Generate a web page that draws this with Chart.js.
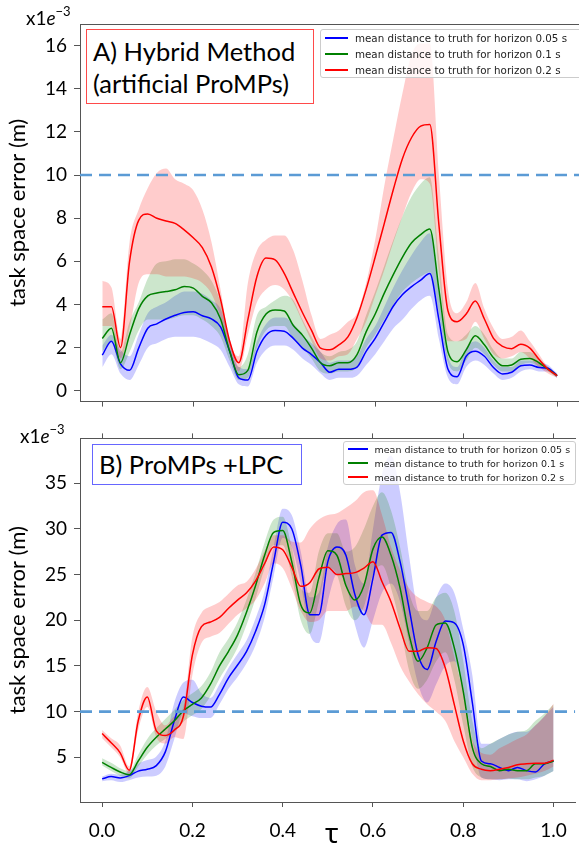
<!DOCTYPE html>
<html>
<head>
<meta charset="utf-8">
<script src="https://cdn.jsdelivr.net/npm/chart.js@4.4.3/dist/chart.umd.min.js"></script>
<style>
  body { margin: 0; background: #fff; width: 579px; height: 848px; overflow: hidden; position: relative; font-family: Lato, sans-serif; }
  canvas { position: absolute; left: 0; }
  #cA { top: 0; }
  #cB { top: 420px; }
  .exp { position: absolute; font-size: 19px; line-height: 19px; color: #000; white-space: nowrap; }
  .exp sup { font-size: 13px; line-height: 0; position: relative; top: -2px; }
  .note { position: absolute; background: #fff; box-sizing: border-box; color: #000; white-space: nowrap; }
  .legend { position: absolute; background: rgba(255,255,255,0.8); border: 1px solid #ccc; border-radius: 3px; box-sizing: border-box; font-family: "DejaVu Sans", sans-serif; color: #222; }
  .legend .row { position: absolute; white-space: nowrap; }
  .legend .ln { position: absolute; height: 2px; }
  #tau { position: absolute; left: 325px; top: 818px; font-family: "Noto Sans", sans-serif; font-size: 28px; line-height: 28px; }
</style>
</head>
<body>
<canvas id="cA" width="579" height="420"></canvas>
<canvas id="cB" width="579" height="428"></canvas>

<div class="exp" style="left:26px;top:8px">x1<i>e</i><sup>−3</sup></div>
<div class="exp" style="left:20px;top:426px">x1<i>e</i><sup>−3</sup></div>

<div class="note" style="left:86px;top:29px;width:228px;height:75px;border:1.5px solid #ff4a4a;padding:5px 0 0 6px;font-size:25.5px;line-height:32px">A) Hybrid Method<br>(artificial ProMPs)</div>
<div class="note" style="left:92px;top:444px;width:210px;height:41px;border:1.5px solid #6666ff;padding:0 0 0 6px;font-size:25.5px;line-height:38px">B) ProMPs +LPC</div>

<div id="legA" class="legend" style="left:320px;top:29px;width:270px;height:49px;font-size:10.3px"></div>
<div id="legB" class="legend" style="left:343px;top:441px;width:233px;height:44px;font-size:9.5px"></div>

<div id="tau">τ</div>

<script>
// tau grid shared by every series
const TAU = [0, 0.02, 0.04, 0.06, 0.08, 0.1, 0.12, 0.14, 0.16, 0.18, 0.2, 0.22, 0.24, 0.26, 0.28, 0.3, 0.32, 0.34, 0.36, 0.38, 0.4,
  0.42, 0.44, 0.46, 0.48, 0.5, 0.52, 0.54, 0.56, 0.58, 0.6, 0.62, 0.64, 0.66, 0.68, 0.7, 0.72, 0.74, 0.76, 0.78, 0.8,
  0.82, 0.84, 0.86, 0.88, 0.9, 0.92, 0.94, 0.96, 0.98, 1.0];
const X_TICKS = [0, 0.2, 0.4, 0.6, 0.8, 1.0];
const A_Y_TICKS = [0, 2, 4, 6, 8, 10, 12, 14, 16];
const B_Y_TICKS = [5, 10, 15, 20, 25, 30, 35];
const THRESHOLD = 10;
const SERIES_LABELS = [
  'mean distance to truth for horizon 0.05 s',
  'mean distance to truth for horizon 0.1 s',
  'mean distance to truth for horizon 0.2 s'
];

// panel A (x1e-3)
const A_BLUE = [1.65, 2.3, 1.25, 0.95, 1.98, 2.9, 3.1, 3.33, 3.5, 3.63, 3.66, 3.48, 3.33, 2.96, 1.83, 0.6, 0.5, 1.83, 2.58, 2.8, 2.76,
  2.43, 1.98, 1.68, 1.3, 0.86, 1.0, 1.0, 1.1, 1.83, 2.43, 3.18, 3.93, 4.46, 4.83, 5.13, 5.44, 3.3, 1.0, 0.65, 1.6,
  1.83, 1.6, 1.08, 0.78, 0.86, 1.16, 1.2, 1.08, 1.05, 0.7];
const A_BLUE_HI = [2.1, 2.6, 1.9, 1.6, 2.6, 3.6, 3.9, 4.1, 4.4, 4.6, 4.6, 4.5, 4.2, 3.8, 2.4, 1.1, 1.0, 2.3, 3.1, 3.4, 3.4,
  3.1, 2.6, 2.2, 1.8, 1.3, 1.4, 1.4, 1.6, 2.4, 3.0, 3.9, 4.8, 5.6, 6.3, 6.9, 7.3, 4.5, 1.6, 1.1, 2.0,
  2.3, 2.0, 1.4, 1.1, 1.1, 1.4, 1.4, 1.3, 1.2, 0.8];
const A_BLUE_LO = [1.1, 1.7, 0.8, 0.5, 1.2, 2.0, 2.2, 2.4, 2.5, 2.5, 2.5, 2.4, 2.2, 1.9, 1.1, 0.3, 0.2, 1.3, 1.9, 2.1, 2.1,
  1.9, 1.5, 1.2, 0.8, 0.5, 0.6, 0.6, 0.7, 1.2, 1.7, 2.3, 2.9, 3.3, 3.8, 4.2, 4.4, 2.4, 0.6, 0.3, 1.1,
  1.4, 1.2, 0.8, 0.5, 0.6, 0.9, 1.0, 0.9, 0.9, 0.6];
const A_GREEN = [2.43, 2.9, 1.3, 2.6, 3.8, 4.4, 4.53, 4.6, 4.68, 4.83, 4.76, 4.38, 4.08, 3.33, 1.83, 0.75, 0.95, 2.73, 3.56, 3.75, 3.7,
  3.03, 2.58, 1.98, 1.3, 1.16, 1.3, 1.3, 1.68, 2.73, 3.56, 4.53, 5.4, 6.2, 6.86, 7.24, 7.5, 4.7, 1.8, 1.35, 1.9,
  2.55, 2.13, 1.53, 1.16, 1.2, 1.46, 1.5, 1.3, 1.0, 0.7];
const A_GREEN_HI = [3.3, 3.6, 1.8, 3.2, 4.1, 5.2, 5.9, 6.0, 6.1, 6.1, 5.9, 5.6, 5.1, 4.1, 2.2, 1.1, 1.7, 3.5, 3.9, 4.2, 4.4,
  4.2, 3.3, 2.5, 1.8, 1.6, 1.8, 1.9, 2.3, 3.5, 4.6, 5.8, 7.0, 8.1, 9.0, 9.6, 9.9, 6.2, 2.6, 2.3, 2.6,
  3.0, 2.6, 1.9, 1.5, 1.5, 1.8, 1.8, 1.5, 1.1, 0.75];
const A_GREEN_LO = [1.8, 2.3, 1.0, 1.8, 2.8, 3.3, 3.3, 3.3, 3.4, 3.5, 3.5, 3.3, 3.0, 2.5, 1.4, 0.5, 0.6, 2.0, 2.8, 3.0, 3.0,
  2.4, 2.0, 1.5, 0.9, 0.8, 0.9, 0.9, 1.1, 2.0, 2.6, 3.3, 4.0, 4.6, 5.0, 5.3, 5.5, 3.6, 1.3, 0.9, 1.4,
  2.0, 1.7, 1.2, 0.9, 0.9, 1.2, 1.3, 1.1, 0.9, 0.6];
const A_RED = [3.9, 3.9, 2.0, 6.0, 7.9, 8.2, 8.0, 7.87, 7.76, 7.46, 7.09, 6.64, 5.74, 4.23, 2.3, 1.3, 3.3, 5.3, 6.15, 6.07, 5.44,
  4.53, 3.63, 2.8, 1.98, 1.9, 2.13, 2.5, 3.4, 4.7, 6.2, 7.76, 9.34, 10.77, 11.74, 12.27, 12.34, 7.7, 3.7, 3.2, 3.56,
  4.16, 3.33, 2.43, 2.06, 1.95, 2.16, 1.98, 1.46, 1.0, 0.7];
const A_RED_HI = [5.1, 4.8, 2.4, 6.9, 8.4, 9.4, 10.1, 10.3, 9.8, 9.6, 9.3, 8.4, 6.9, 4.7, 2.3, 1.6, 5.0, 6.5, 7.0, 7.2, 7.2,
  6.5, 5.1, 3.5, 2.4, 2.6, 2.8, 3.2, 3.6, 5.0, 7.0, 9.5, 11.7, 13.8, 15.6, 16.1, 16.1, 10.0, 4.7, 3.6, 4.1,
  5.0, 3.8, 2.9, 2.4, 2.5, 2.8, 2.3, 1.7, 1.1, 0.8];
const A_RED_LO = [3.0, 3.0, 1.5, 2.9, 5.0, 5.4, 5.4, 5.3, 5.3, 5.3, 5.2, 5.0, 4.5, 3.4, 1.8, 0.9, 2.6, 4.1, 4.7, 4.9, 4.7,
  4.1, 3.2, 2.3, 1.5, 1.4, 1.6, 1.7, 2.4, 3.2, 4.4, 5.6, 6.9, 8.1, 9.2, 9.8, 9.6, 5.5, 2.3, 2.3, 2.4,
  3.2, 2.4, 1.7, 1.5, 1.6, 1.8, 1.5, 1.1, 0.8, 0.6];

// panel B (x1e-3)
const B_BLUE = [2.65, 2.9, 2.75, 3.0, 3.5, 3.7, 4.1, 5.6, 9.0, 11.6, 11.0, 10.6, 10.5, 11.9, 13.7, 15.1, 16.6, 18.8, 21.7, 26.4, 30.7,
  30.0, 26.0, 20.6, 20.6, 26.4, 28.0, 27.1, 22.8, 20.6, 24.6, 29.3, 29.6, 26.4, 21.3, 16.2, 14.6, 17.7, 19.9, 19.7, 17.3,
  11.0, 4.6, 4.3, 3.9, 3.55, 3.9, 3.55, 3.4, 4.3, 4.6];
const B_BLUE_HI = [2.9, 3.2, 3.1, 3.5, 4.3, 4.7, 5.1, 6.8, 11.0, 13.2, 13.5, 12.0, 11.5, 13.0, 14.8, 16.3, 17.8, 20.2, 23.2, 28.0, 32.2,
  31.5, 27.5, 22.5, 23.0, 28.0, 30.5, 31.0, 26.0, 24.0, 30.0, 36.0, 38.0, 34.0, 27.0, 21.0, 20.0, 22.5, 24.0, 23.0, 19.0,
  14.0, 6.5, 6.5, 7.0, 7.5, 7.8, 7.8, 8.5, 9.5, 10.5];
const B_BLUE_LO = [2.4, 2.5, 2.3, 2.5, 2.8, 2.9, 3.0, 4.0, 7.0, 9.8, 9.5, 9.3, 9.3, 10.8, 12.5, 13.8, 15.3, 17.3, 20.3, 24.8, 29.0,
  28.0, 24.0, 18.5, 17.5, 22.0, 25.0, 24.0, 19.5, 17.0, 20.0, 23.0, 24.0, 22.0, 17.5, 13.0, 11.0, 13.0, 15.0, 15.5, 12.0,
  7.0, 2.8, 2.6, 2.5, 2.6, 2.6, 2.4, 2.6, 3.0, 3.5];
const B_GREEN = [4.45, 3.9, 3.4, 3.1, 4.6, 6.1, 7.2, 8.1, 9.0, 10.1, 10.8, 11.5, 13.0, 15.0, 16.6, 18.4, 20.9, 23.8, 27.1, 29.6, 29.8,
  26.4, 21.7, 20.8, 24.6, 27.6, 27.1, 23.8, 22.2, 23.8, 27.8, 29.1, 27.1, 23.5, 18.4, 15.5, 17.0, 19.5, 19.7, 17.0, 12.2,
  6.1, 4.3, 4.0, 3.55, 3.7, 3.55, 3.55, 4.3, 4.3, 4.6];
const B_GREEN_HI = [4.9, 4.4, 3.8, 3.5, 5.3, 7.0, 8.2, 9.2, 10.2, 11.3, 12.0, 12.8, 14.3, 16.5, 18.0, 19.8, 22.3, 25.2, 28.5, 31.0, 31.3,
  28.0, 23.5, 23.0, 27.5, 29.5, 29.5, 27.5, 28.0, 30.0, 32.5, 34.0, 32.0, 28.0, 23.0, 21.0, 21.0, 22.5, 23.0, 21.0, 15.5,
  9.0, 6.0, 6.5, 7.0, 7.5, 7.8, 8.0, 9.0, 9.8, 10.8];
const B_GREEN_LO = [4.1, 3.5, 3.0, 2.7, 4.0, 5.3, 6.3, 7.0, 7.8, 8.9, 9.6, 10.3, 11.7, 13.6, 15.2, 17.0, 19.5, 22.4, 25.7, 28.2, 28.2,
  24.8, 20.0, 18.5, 22.0, 25.7, 25.0, 21.5, 20.0, 21.5, 25.0, 26.0, 23.5, 19.5, 14.5, 12.5, 13.5, 15.5, 16.5, 13.5, 8.5,
  4.0, 2.8, 2.6, 2.6, 2.7, 2.6, 2.6, 2.8, 3.0, 3.5];
const B_RED = [7.6, 6.6, 5.5, 3.6, 9.0, 11.6, 7.9, 7.4, 8.0, 9.5, 16.2, 19.3, 19.8, 20.3, 21.3, 22.2, 23.0, 24.3, 26.2, 28.0, 27.7,
  25.8, 23.7, 24.1, 25.6, 25.8, 25.0, 25.1, 25.2, 25.7, 26.4, 24.2, 22.0, 19.1, 16.6, 16.6, 17.0, 16.9, 14.8, 10.8, 6.8,
  4.3, 3.7, 3.55, 3.7, 3.9, 4.2, 4.3, 4.35, 4.35, 4.7];
const B_RED_HI = [8.0, 7.1, 6.3, 4.0, 10.0, 12.7, 10.0, 8.5, 9.5, 10.5, 18.2, 20.8, 21.5, 22.0, 22.9, 23.8, 24.2, 25.6, 27.6, 29.3, 29.3,
  28.6, 28.5, 30.0, 31.0, 31.5, 31.7, 32.3, 33.0, 34.0, 34.2, 31.5, 28.0, 25.5, 23.5, 22.5, 22.0, 21.5, 20.0, 16.0, 12.0,
  7.0, 5.5, 5.3, 6.0, 6.5, 7.0, 7.5, 8.5, 9.5, 10.9];
const B_RED_LO = [7.1, 6.1, 5.0, 3.2, 8.0, 10.5, 7.2, 6.5, 7.2, 7.0, 14.0, 17.5, 18.2, 18.6, 19.6, 20.6, 21.3, 22.2, 24.0, 26.2, 25.7,
  23.5, 21.0, 19.8, 20.0, 21.0, 21.0, 21.0, 21.5, 21.0, 19.5, 19.5, 17.5, 15.0, 13.3, 11.9, 10.8, 10.0, 9.0, 6.8, 5.0,
  3.2, 2.5, 2.5, 2.6, 2.7, 2.8, 3.0, 3.2, 3.5, 4.0];

const X_MIN = -0.049, X_MAX = 1.048;
const LINE_COLORS = ['#0000ff', '#008000', '#ff0000'];
const BAND_COLORS = ['rgba(0,0,255,0.2)', 'rgba(0,128,0,0.2)', 'rgba(255,0,0,0.2)'];
const AXIS_COLOR = '#555';

const pts = arr => TAU.map((t, i) => ({ x: t, y: arr[i] }));

function buildDatasets(means, his, los) {
  const ds = [{
    data: [{ x: X_MIN, y: THRESHOLD }, { x: X_MAX, y: THRESHOLD }],
    borderColor: '#5b9bd5', borderWidth: 2.6, borderDash: [12, 7], pointRadius: 0, fill: false, order: 0
  }];
  // lines, red on top
  [2, 1, 0].forEach((k, j) => ds.push({
    data: pts(means[k]), borderColor: LINE_COLORS[k], borderWidth: 1.5, pointRadius: 0,
    fill: false, cubicInterpolationMode: 'monotone', order: 1 + j
  }));
  // bands
  [2, 1, 0].forEach((k, j) => {
    ds.push({
      data: pts(his[k]), borderWidth: 0, borderColor: 'rgba(0,0,0,0)', backgroundColor: BAND_COLORS[k],
      pointRadius: 0, fill: '+1', cubicInterpolationMode: 'monotone', order: 10 + 2 * j
    });
    ds.push({
      data: pts(los[k]), borderWidth: 0, borderColor: 'rgba(0,0,0,0)', pointRadius: 0,
      fill: false, cubicInterpolationMode: 'monotone', order: 11 + 2 * j
    });
  });
  return ds;
}

function panel(canvasId, cfg) {
  const tickFont = { family: 'Lato', size: 19 };
  return new Chart(document.getElementById(canvasId), {
    type: 'line',
    data: { datasets: buildDatasets(cfg.means, cfg.his, cfg.los) },
    options: {
      responsive: false,
      animation: false,
      events: [],
      layout: { padding: { top: cfg.padTop, left: 0, right: 0, bottom: 0 } },
      plugins: { legend: { display: false }, tooltip: { enabled: false } },
      scales: {
        x: {
          type: 'linear', position: 'bottom', min: X_MIN, max: X_MAX,
          afterBuildTicks: s => { s.ticks = X_TICKS.map(v => ({ value: v })); },
          afterFit: s => { s.height = cfg.xHeight; },
          grid: { drawOnChartArea: false, tickLength: 5, color: AXIS_COLOR },
          border: { color: AXIS_COLOR, width: 1 },
          ticks: {
            display: cfg.xLabels, font: tickFont, color: '#000', padding: 12, maxRotation: 0,
            callback: v => v.toFixed(1)
          }
        },
        xTop: {
          type: 'linear', axis: 'x', position: 'top', min: X_MIN, max: X_MAX,
          afterBuildTicks: s => { s.ticks = X_TICKS.map(v => ({ value: v })); },
          afterFit: s => { s.height = cfg.topTicks ? 5 : 0; },
          grid: { drawOnChartArea: false, drawTicks: cfg.topTicks, tickLength: 5, color: AXIS_COLOR },
          border: { color: AXIS_COLOR, width: 1 },
          ticks: { display: false }
        },
        y: {
          type: 'linear', position: 'left', min: cfg.yMin, max: cfg.yMax,
          afterBuildTicks: s => { s.ticks = cfg.yTicks.map(v => ({ value: v })); },
          afterFit: s => { s.width = 80; },
          grid: { drawOnChartArea: false, tickLength: 6, color: AXIS_COLOR },
          border: { color: AXIS_COLOR, width: 1 },
          ticks: { font: tickFont, color: '#000', padding: 7 },
          title: {
            display: true, text: 'task space error (m)', color: '#000',
            font: { family: 'Lato', size: 22 }, padding: { top: 5, bottom: 0 }
          }
        }
      }
    }
  });
}

panel('cA', {
  means: [A_BLUE, A_GREEN, A_RED], his: [A_BLUE_HI, A_GREEN_HI, A_RED_HI], los: [A_BLUE_LO, A_GREEN_LO, A_RED_LO],
  yMin: -0.5, yMax: 17, yTicks: A_Y_TICKS, padTop: 24, xHeight: 8, xLabels: false, topTicks: false
});
panel('cB', {
  means: [B_BLUE, B_GREEN, B_RED], his: [B_BLUE_HI, B_GREEN_HI, B_RED_HI], los: [B_BLUE_LO, B_GREEN_LO, B_RED_LO],
  yMin: 0.12, yMax: 39.88, yTicks: B_Y_TICKS, padTop: 10, xHeight: 46, xLabels: true, topTicks: true
});

// legends
function legend(id, rowTops, lineX, textX) {
  const box = document.getElementById(id);
  SERIES_LABELS.forEach((label, i) => {
    const ln = document.createElement('div');
    ln.className = 'ln';
    ln.style.cssText = `left:${lineX[0]}px;width:${lineX[1] - lineX[0]}px;top:${rowTops[i] - 1}px;background:${LINE_COLORS[i]}`;
    box.appendChild(ln);
    const row = document.createElement('div');
    row.className = 'row';
    row.style.cssText = `left:${textX}px;top:${rowTops[i]}px;transform:translateY(-50%)`;
    row.textContent = label;
    box.appendChild(row);
  });
}
legend('legA', [7.5, 23.5, 39.5], [4, 27], 34);
legend('legB', [6.5, 20.5, 34.5], [3.5, 23.5], 30.5);
</script>
</body>
</html>
